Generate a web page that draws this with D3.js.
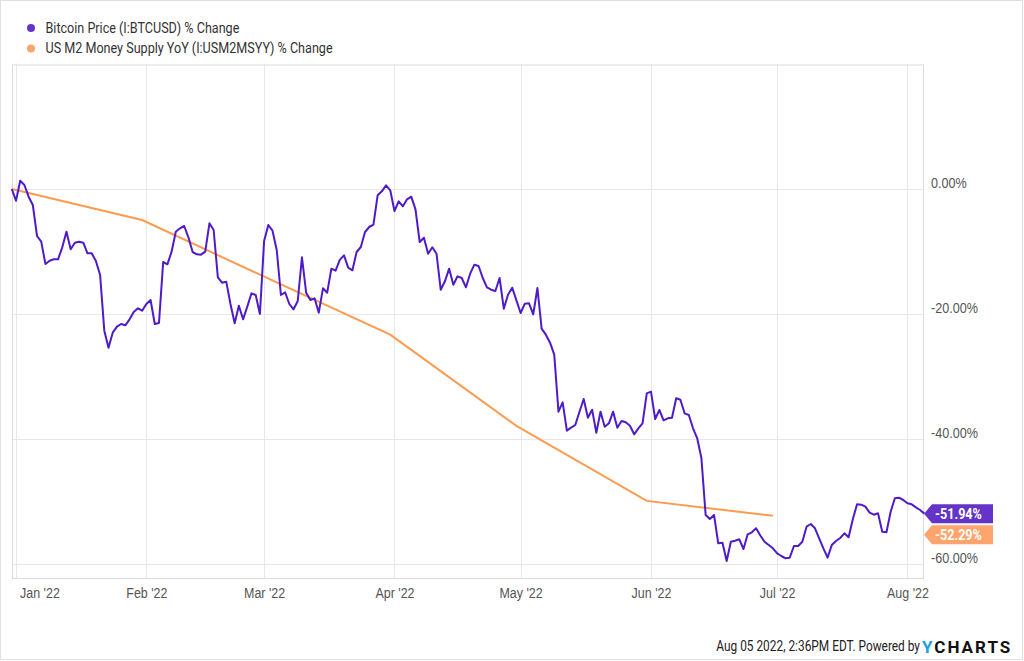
<!DOCTYPE html>
<html>
<head>
<meta charset="utf-8">
<script src="https://cdn.jsdelivr.net/npm/d3@7"></script>
<style>
  body { margin: 0; background: #fff; }
  svg { display: block; font-family: Roboto, "Open Sans", sans-serif; }
</style>
</head>
<body>
<svg id="chart" width="1024" height="661"></svg>
<script>
// daily BTC % change since Dec 31 2021 (one value per day)
var btcStart = "2021-12-31"
var btcValues = [
  0, -1.87, 1.33, 0.64, -1.23, -2.56, -7.52, -8.43, -12.0, -11.47,
  -11.25, -11.25, -9.33, -6.83, -9.65, -8.59, -8.43, -8.59, -10.29, -10.29,
  -11.52, -13.76, -22.67, -25.39, -22.99, -22.03, -21.6, -21.81, -20.85, -19.68,
  -19.09, -19.47, -18.4, -17.76, -21.6, -21.44, -11.68, -12.05, -10.03, -6.83,
  -6.29, -5.92, -7.73, -10.08, -10.45, -10.51, -10.03, -5.49, -6.56, -14.13,
  -14.99, -14.83, -18.4, -21.49, -18.67, -20.85, -18.83, -16.69, -16.96, -20.0,
  -8.32, -5.76, -6.67, -9.76, -16.96, -16.53, -18.4, -19.25, -17.92, -10.93,
  -16.59, -17.76, -17.49, -19.79, -15.89, -16.59, -12.75, -13.07, -11.33, -10.61,
  -12.59, -13.01, -10.08, -9.28, -6.88, -6.08, -5.71, -1.01, -0.37, 0.59,
  -0.21, -3.52, -1.97, -2.77, -1.65, -1.23, -3.25, -8.48, -7.79, -10.35,
  -9.33, -10.35, -16.11, -14.77, -12.75, -15.31, -13.97, -14.24, -15.73, -13.55,
  -12.11, -12.32, -14.24, -15.73, -16.11, -16.32, -14.24, -19.15, -16.91, -15.79,
  -17.81, -19.84, -18.35, -18.29, -20.05, -15.84, -22.35, -23.31, -24.59, -26.5,
  -35.63, -34.13, -38.67, -38.19, -37.76, -35.63, -33.6, -36.59, -35.31, -39.0,
  -35.63, -38.03, -37.49, -35.63, -38.19, -37.12, -37.33, -37.87, -39.25, -38.29,
  -37.49, -32.69, -32.43, -36.8, -35.36, -37.01, -36.69, -36.59, -33.49, -33.71,
  -35.89, -36.16, -38.29, -39.89, -43.09, -52.16, -52.8, -52.16, -56.69, -56.59,
  -59.52, -56.43, -56.27, -56.05, -57.6, -55.25, -54.93, -54.29, -55.44, -56.43,
  -56.96, -57.49, -58.29, -58.72, -59.09, -58.99, -57.12, -57.12, -56.43, -54.03,
  -53.6, -54.29, -55.89, -57.49, -58.99, -56.96, -56.32, -55.84, -55.09, -55.73,
  -52.85, -50.45, -50.51, -50.83, -51.79, -52.11, -51.89, -54.83, -54.93, -51.63,
  -49.49, -49.39, -49.76, -50.29, -50.45, -50.93, -51.36, -51.94
]

// monthly M2 YoY % change
var m2Dates = ["2021-12-31", "2022-01-31", "2022-02-28", "2022-03-31", "2022-04-30", "2022-05-31", "2022-06-30"]
var m2Values = [0, -4.96, -13.7, -23.3, -37.9, -49.9, -52.29]

var seriesNames = ["Bitcoin Price (I:BTCUSD) % Change", "US M2 Money Supply YoY (I:USM2MSYY) % Change"]
var seriesColors = ["#4f1bc9", "#ff9a4f"]
var labelColors = ["#6434c8", "#ffa46c"]
var yTicks = [0, -20, -40, -60]
var footerText = "Aug 05 2022, 2:36PM EDT. Powered by"

var locale = d3.formatLocale({ decimal: ".", thousands: ",", grouping: [3], currency: ["$", ""], minus: "-" })
var pct = function(d) { return locale.format(".2f")(d) + "%" }

// the chart text is a narrow face; squeeze Roboto horizontally around its x
function squeeze(sel, k) {
  sel.attr("transform", function() {
    var x0 = +d3.select(this).attr("x") || 0
    return "translate(" + x0 * (1 - k) + ",0) scale(" + k + ",1)"
  })
}

var parse = d3.timeParse("%Y-%m-%d")
var t0 = parse(btcStart)
var btc = btcValues.map(function(v, i) { return { date: d3.timeDay.offset(t0, i), value: v } })
var m2 = m2Dates.map(function(d, i) { return { date: parse(d), value: m2Values[i] } })

var svg = d3.select("#chart")
var plot = { left: 12, right: 923, top: 64.5, bottom: 578 }

var x = d3.scaleTime()
  .domain([t0, parse("2022-08-05")])
  .range([11.8, 924.3])
var y = d3.scaleLinear()
  .domain([-62.24, 19.92])
  .range([plot.bottom, plot.top])

// outer frame
svg.append("rect")
  .attr("x", 0.5).attr("y", 0.5).attr("width", 1022).attr("height", 659)
  .attr("fill", "none").attr("stroke", "#e0e0e0")

// grid
var grid = svg.append("g")
grid.selectAll(".hg").data(yTicks).enter().append("line")
  .attr("x1", plot.left).attr("x2", plot.right)
  .attr("y1", function(d) { return Math.round(y(d)) + 0.5 })
  .attr("y2", function(d) { return Math.round(y(d)) + 0.5 })
  .attr("stroke", "#e8e8e8")
var months = d3.timeMonth.range(parse("2022-01-01"), parse("2022-08-02"))
grid.selectAll(".vg").data(months).enter().append("line")
  .attr("x1", function(d) { return Math.round(x(d)) + 0.5 })
  .attr("x2", function(d) { return Math.round(x(d)) + 0.5 })
  .attr("y1", plot.top).attr("y2", plot.bottom)
  .attr("stroke", "#e8e8e8")
svg.append("rect")
  .attr("x", plot.left + 0.5).attr("y", plot.top + 0.5)
  .attr("width", plot.right - plot.left).attr("height", plot.bottom - plot.top)
  .attr("fill", "none").attr("stroke", "#dcdcdc")

// axes
var xk = 0.86
var xAxis = svg.append("g")
  .attr("transform", "translate(0," + plot.bottom + ")")
  .call(d3.axisBottom(x).tickValues(months).tickFormat(d3.timeFormat("%b '%y")).tickSize(0).tickPadding(10))
xAxis.select(".domain").remove()
xAxis.selectAll("text").attr("fill", "#555").attr("font-size", "14.5px")
// squeeze and keep the first label inside the plot
xAxis.selectAll(".tick text").each(function() {
  var b = this.getBBox()
  var tx = +d3.select(this.parentNode).attr("transform").match(/translate\(([-\d.]+)/)[1]
  var shift = Math.max(0, 20 - (tx + xk * b.x))
  d3.select(this).attr("transform", "translate(" + shift + ",0) scale(" + xk + ",1)")
})

var yAxis = svg.append("g")
  .attr("transform", "translate(931,0)")
  .call(d3.axisRight(y).tickValues(yTicks).tickFormat(pct).tickSize(0).tickPadding(0))
yAxis.select(".domain").remove()
yAxis.selectAll("text").attr("fill", "#555").attr("font-size", "14px").attr("dy", "-0.12em")
  .call(squeeze, 0.9)

// lines
var line = d3.line()
  .x(function(d) { return x(d.date) })
  .y(function(d) { return y(d.value) })

svg.append("path").datum(m2)
  .attr("d", line).attr("fill", "none")
  .attr("stroke", seriesColors[1]).attr("stroke-width", 2)
svg.append("path").datum(btc)
  .attr("d", line).attr("fill", "none")
  .attr("stroke", seriesColors[0]).attr("stroke-width", 2)
  .attr("stroke-linejoin", "round")

// end value labels
var ends = [
  { v: btcValues[btcValues.length - 1], c: labelColors[0] },
  { v: m2Values[m2Values.length - 1], c: labelColors[1] }
]
ends.forEach(function(e) { e.y = y(e.v) })
ends.sort(function(a, b) { return a.y - b.y })
for (var i = 1; i < ends.length; i++) {
  if (ends[i].y < ends[i - 1].y + 21) ends[i].y = ends[i - 1].y + 21
}
var lab = svg.selectAll(".endlab").data(ends).enter().append("g")
  .attr("transform", function(d) { return "translate(924," + d.y + ")" })
lab.append("path")
  .attr("d", "M0,0L8,-9.5L69,-9.5L69,9.5L8,9.5Z")
  .attr("fill", function(d) { return d.c })
lab.append("text")
  .attr("x", 34.5).attr("dy", "0.36em")
  .attr("text-anchor", "middle")
  .attr("fill", "#fff").attr("font-size", "14px").attr("font-weight", "bold")
  .text(function(d) { return pct(d.v) })
  .call(squeeze, 0.9)

// legend
var leg = svg.selectAll(".leg").data(seriesNames).enter().append("g")
  .attr("transform", function(d, i) { return "translate(31," + (28 + i * 20.5) + ")" })
leg.append("circle").attr("r", 4)
  .attr("fill", function(d, i) { return i ? labelColors[1] : labelColors[0] })
leg.append("text")
  .attr("x", 14.5).attr("dy", "0.35em")
  .attr("font-size", "14px").attr("fill", "#333")
  .text(function(d) { return d })
  .call(squeeze, 0.9)

// footer
svg.append("text")
  .attr("x", 920).attr("y", 651)
  .attr("text-anchor", "end")
  .attr("font-size", "14.5px").attr("fill", "#222")
  .text(footerText)
  .call(squeeze, 0.82)
var logo = svg.append("text")
  .attr("x", 922).attr("y", 652.5)
  .attr("font-size", "17px").attr("font-weight", "bold")
  .attr("letter-spacing", "2px")
logo.append("tspan").attr("fill", "#1ba1e2").text("Y")
logo.append("tspan").attr("fill", "#111").text("CHARTS")
</script>
</body>
</html>
